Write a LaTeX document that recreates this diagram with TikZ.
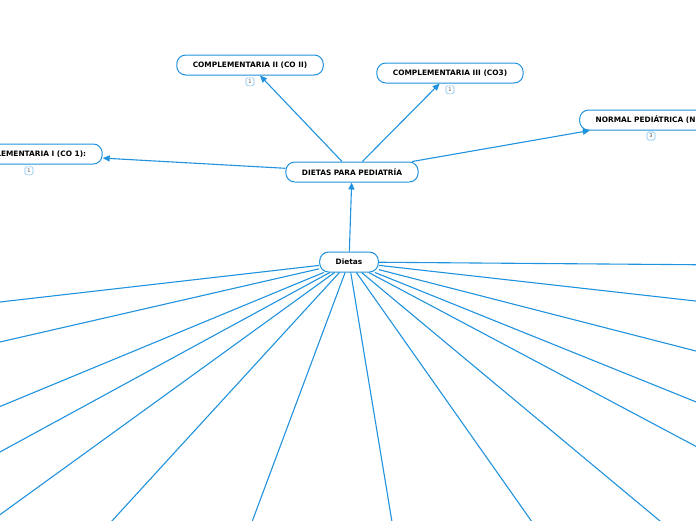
\documentclass[tikz,border=0pt]{standalone}
\usepackage{fontspec}
\setmainfont{DejaVu Sans}
\usepackage{tikz}
\usetikzlibrary{positioning, arrows.meta, calc}
\usepackage{xcolor}
\definecolor{mmblue}{RGB}{32,146,222}

\tikzset{
  topic/.style={draw=mmblue, fill=white, line width=1pt, rounded corners=9pt,
    minimum height=20pt, inner xsep=16pt, inner ysep=2pt,
    font=\fontsize{7.4}{8}\selectfont\bfseries},
  badge/.style={draw=mmblue!60, fill=white, line width=0.6pt, rounded corners=1.5pt,
    minimum width=8pt, minimum height=8pt, inner sep=0.5pt,
    font=\fontsize{5}{5}\selectfont, text=black!70},
  link/.style={draw=mmblue, line width=1.1pt},
  arr/.style={link, -{Triangle[length=7pt,width=6pt]}}
}

\begin{document}
\begin{tikzpicture}[x=1pt, y=-1pt]
\useasboundingbox (0,0) rectangle (696,520);
\clip (0,0) rectangle (696,520);

% central topic and its children
\node[topic] (main) at (352,172) {DIETAS PARA PEDIATRÍA};
\node[topic] (co2) at (250,65) {COMPLEMENTARIA II (CO II)};
\node[topic] (co3) at (450,73) {COMPLEMENTARIA III (CO3)};
\node[topic] (co1) at (29,154) {COMPLEMENTARIA I (CO 1):};
\node[topic] (np) at (650,120) {NORMAL PEDIÁTRICA (NP)};
\node[badge, below=2pt of co2] (b2) {1};
\node[badge, below=2pt of co3] (b3) {1};
\node[badge, below=2pt of co1] (b1) {1};
\node[badge] (bn) at (651,136) {3};

\draw[arr] (main) -- (co2);
\draw[arr] (main) -- (co3);
\draw[arr] (main) -- (co1);
\draw[arr] (main) -- (np);

% Dietas and its branches off the page
\node[topic] (dietas) at (349,262) {Dietas};
\draw[arr] (dietas) -- (main);

\foreach \i/\x/\y in {l1/-35/306, l2/-35/350, l3/-35/421, l4/-35/471, l5/-35/540,
                      d1/89/546, d2/243/546, d3/396/546, d4/549/546, d5/690/546,
                      r1/731/265, r2/731/305, r3/731/360, r4/731/416, r5/731/465} {
  \coordinate (\i) at (\x,\y);
  \draw[link] (dietas) -- (\i);
}
\end{tikzpicture}
\end{document}
